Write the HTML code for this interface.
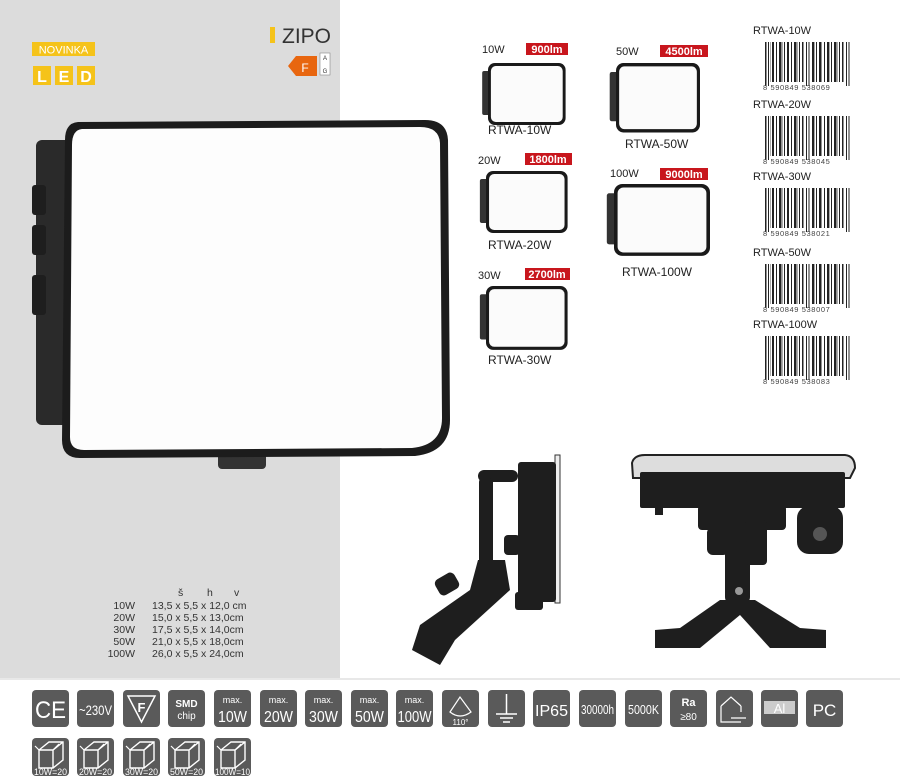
<!DOCTYPE html>
<html><head><meta charset="utf-8"><style>
html,body{margin:0;padding:0;background:#fff;}
svg{display:block;font-family:"Liberation Sans",sans-serif;}
</style></head><body>
<svg width="900" height="778" viewBox="0 0 900 778" xmlns="http://www.w3.org/2000/svg">
<defs>
<g id="bc">
<rect x="0" y="0" width="88" height="40" fill="#fff"/>
<g fill="#222">
<rect x="2" y="0" width="1.5" height="44"/><rect x="5" y="0" width="1" height="44"/>
<rect x="9" y="0" width="2" height="40"/><rect x="13" y="0" width="1" height="40"/><rect x="16" y="0" width="2.5" height="40"/>
<rect x="21" y="0" width="1" height="40"/><rect x="24" y="0" width="2" height="40"/><rect x="28" y="0" width="1" height="40"/>
<rect x="31" y="0" width="2.5" height="40"/><rect x="36" y="0" width="1" height="40"/><rect x="39" y="0" width="1.5" height="40"/>
<rect x="43" y="0" width="1" height="44"/><rect x="45.5" y="0" width="1" height="44"/>
<rect x="49" y="0" width="2" height="40"/><rect x="53" y="0" width="1" height="40"/><rect x="56" y="0" width="2.5" height="40"/>
<rect x="61" y="0" width="1" height="40"/><rect x="64" y="0" width="2" height="40"/><rect x="68" y="0" width="1" height="40"/>
<rect x="71" y="0" width="2.5" height="40"/><rect x="76" y="0" width="1" height="40"/><rect x="79" y="0" width="1.5" height="40"/>
<rect x="83" y="0" width="1" height="44"/><rect x="85.5" y="0" width="1" height="44"/>
</g>
<g fill="#aaa"><rect x="7" y="0" width="1" height="40"/><rect x="19" y="0" width="1" height="40"/><rect x="34" y="0" width="1" height="40"/><rect x="51" y="0" width="1" height="40"/><rect x="66" y="0" width="1" height="40"/><rect x="74" y="0" width="1" height="40"/></g>
</g>
<g id="lamp">
<rect x="-6" y="8" width="10" height="44" rx="2" fill="#333"/>
<rect x="0" y="0" width="80" height="62" rx="7" fill="#1a1a1a"/>
<rect x="3" y="3" width="74" height="56" rx="5" fill="#fbfbfb"/>
</g>
<g id="box">
<path d="M6 12 L16 4 L30 4 L30 22 L20 30 L6 30 Z M6 12 L20 12 L30 4 M20 12 L20 30" fill="none" stroke="#fff" stroke-width="1.4"/>
<path d="M6 12 L2 8 M20 12 L26 6" stroke="#fff" stroke-width="1.2"/>
</g>
</defs>

<rect x="0" y="0" width="340" height="678" fill="#dcdcdc"/>
<line x1="0" y1="679" x2="900" y2="679" stroke="#d0d0d0" stroke-width="1"/>

<rect x="32" y="42" width="63" height="14" fill="#f5c31a"/>
<text x="63.5" y="53.5" font-size="11" fill="#fff" text-anchor="middle">NOVINKA</text>
<rect x="33" y="66" width="18" height="19" fill="#f5c31a"/><rect x="55" y="66" width="18" height="19" fill="#f5c31a"/><rect x="77" y="66" width="18" height="19" fill="#f5c31a"/>
<text x="42" y="82" font-size="16" font-weight="bold" fill="#fff" text-anchor="middle">L</text>
<text x="64" y="82" font-size="16" font-weight="bold" fill="#fff" text-anchor="middle">E</text>
<text x="86" y="82" font-size="16" font-weight="bold" fill="#fff" text-anchor="middle">D</text>

<rect x="270" y="27" width="5" height="16" fill="#f5c31a"/>
<text x="282" y="43" font-size="21" fill="#333">ZIPO</text>
<path d="M288 66 L296 56 L317 56 L317 76 L296 76 Z" fill="#e8660f"/>
<text x="305" y="72" font-size="12" fill="#fff" text-anchor="middle">F</text>
<rect x="320" y="53" width="10" height="22" fill="#fff" stroke="#888" stroke-width="0.6"/>
<text x="325" y="60" font-size="6" fill="#333" text-anchor="middle">A</text>
<text x="325" y="73" font-size="6" fill="#333" text-anchor="middle">G</text>

<!-- main lamp -->
<rect x="218" y="445" width="48" height="24" rx="4" fill="#333"/>
<rect x="36" y="140" width="42" height="285" rx="6" fill="#2a2a2a"/>
<rect x="32" y="185" width="14" height="30" rx="3" fill="#1e1e1e"/>
<rect x="32" y="225" width="14" height="30" rx="3" fill="#1e1e1e"/>
<rect x="32" y="275" width="14" height="40" rx="3" fill="#1e1e1e"/>
<path d="M78 122 Q65 123 65 140 L62 440 Q62 458 80 458 L415 456 Q450 452 450 420 L448 140 Q447 120 425 120 Z" fill="#1c1c1c"/>
<path d="M82 129 Q72 130 72 145 L70 437 Q70 450 84 450 L412 448 Q442 445 442 418 L440 143 Q439 127 420 127 Z" fill="#fdfdfd"/>

<g font-size="10.5" fill="#333">
<text x="178" y="596">š</text><text x="207" y="596">h</text><text x="234" y="596">v</text>
<text x="135" y="609" text-anchor="end">10W</text><text x="152" y="609">13,5 x 5,5 x 12,0 cm</text>
<text x="135" y="621" text-anchor="end">20W</text><text x="152" y="621">15,0 x 5,5 x 13,0cm</text>
<text x="135" y="633" text-anchor="end">30W</text><text x="152" y="633">17,5 x 5,5 x 14,0cm</text>
<text x="135" y="645" text-anchor="end">50W</text><text x="152" y="645">21,0 x 5,5 x 18,0cm</text>
<text x="135" y="657" text-anchor="end">100W</text><text x="152" y="657">26,0 x 5,5 x 24,0cm</text>
</g>

<g font-size="11" fill="#222">
<text x="482" y="53">10W</text><rect x="526" y="43" width="42" height="12" fill="#c8161d"/><text x="547" y="53" fill="#fff" font-weight="bold" text-anchor="middle">900lm</text>
<g transform="translate(488,63) scale(0.97,1)"><use href="#lamp"/></g>
<text x="488" y="134" font-size="12">RTWA-10W</text>

<text x="616" y="55">50W</text><rect x="660" y="45" width="48" height="12" fill="#c8161d"/><text x="684" y="55" fill="#fff" font-weight="bold" text-anchor="middle">4500lm</text>
<g transform="translate(616,63) scale(1.05,1.12)"><use href="#lamp"/></g>
<text x="625" y="148" font-size="12">RTWA-50W</text>

<text x="478" y="164">20W</text><rect x="525" y="153" width="47" height="12" fill="#c8161d"/><text x="548" y="163" fill="#fff" font-weight="bold" text-anchor="middle">1800lm</text>
<g transform="translate(486,171) scale(1.02,1)"><use href="#lamp"/></g>
<text x="488" y="249" font-size="12">RTWA-20W</text>

<text x="610" y="177">100W</text><rect x="660" y="168" width="48" height="12" fill="#c8161d"/><text x="684" y="178" fill="#fff" font-weight="bold" text-anchor="middle">9000lm</text>
<g transform="translate(614,184) scale(1.2,1.16)"><use href="#lamp"/></g>
<text x="622" y="276" font-size="12">RTWA-100W</text>

<text x="478" y="279">30W</text><rect x="525" y="268" width="45" height="12" fill="#c8161d"/><text x="547" y="278" fill="#fff" font-weight="bold" text-anchor="middle">2700lm</text>
<g transform="translate(486,286) scale(1.02,1.03)"><use href="#lamp"/></g>
<text x="488" y="364" font-size="12">RTWA-30W</text>
</g>

<g font-size="11" fill="#222">
<text x="753" y="34">RTWA-10W</text><use href="#bc" x="763" y="42"/><text x="763" y="90" font-size="7.5" fill="#444" letter-spacing="0.6">8 590849 538069</text>
<text x="753" y="108">RTWA-20W</text><use href="#bc" x="763" y="116"/><text x="763" y="164" font-size="7.5" fill="#444" letter-spacing="0.6">8 590849 538045</text>
<text x="753" y="180">RTWA-30W</text><use href="#bc" x="763" y="188"/><text x="763" y="236" font-size="7.5" fill="#444" letter-spacing="0.6">8 590849 538021</text>
<text x="753" y="256">RTWA-50W</text><use href="#bc" x="763" y="264"/><text x="763" y="312" font-size="7.5" fill="#444" letter-spacing="0.6">8 590849 538007</text>
<text x="753" y="328">RTWA-100W</text><use href="#bc" x="763" y="336"/><text x="763" y="384" font-size="7.5" fill="#444" letter-spacing="0.6">8 590849 538083</text>
</g>

<g fill="#1e1e1e">
<rect x="555" y="455" width="5" height="148" fill="#eee" stroke="#333"/>
<rect x="518" y="462" width="38" height="140" rx="3"/>
<rect x="515" y="592" width="28" height="18" rx="3"/>
<rect x="478" y="470" width="40" height="12" rx="6"/>
<rect x="479" y="478" width="14" height="90" rx="4"/>
<rect x="504" y="535" width="16" height="20" rx="4"/>
<path d="M478 560 L505 560 L510 590 L455 640 L440 665 L412 650 L420 625 L470 590 Z"/>
<rect x="436" y="575" width="22" height="18" rx="5" transform="rotate(-30 447 584)"/>
</g>

<g fill="#1e1e1e">
<path d="M632 463 Q634 455 645 455 L845 455 Q855 456 855 468 L850 478 L633 478 Z" fill="#ddd" stroke="#222" stroke-width="2"/>
<rect x="640" y="472" width="205" height="36" rx="2"/>
<rect x="698" y="505" width="88" height="25" rx="4"/>
<circle cx="743" cy="497" r="16"/>
<rect x="707" y="527" width="22" height="28" rx="6"/>
<rect x="725" y="525" width="25" height="80" rx="8"/>
<rect x="745" y="520" width="22" height="45" rx="4"/>
<circle cx="739" cy="591" r="4" fill="#999"/>
<path d="M720 600 L755 600 L800 628 L826 630 L826 648 L770 648 L740 615 L700 648 L655 648 L655 630 L680 628 Z"/>
<rect x="797" y="506" width="46" height="48" rx="12"/>
<circle cx="820" cy="534" r="7" fill="#555"/>
<rect x="655" y="505" width="8" height="10"/><rect x="830" y="505" width="8" height="10"/>
</g>

<g>
<g fill="#5a5a5a">
<rect x="32" y="690" width="37" height="37" rx="4"/><rect x="77" y="690" width="37" height="37" rx="4"/><rect x="123" y="690" width="37" height="37" rx="4"/><rect x="168" y="690" width="37" height="37" rx="4"/><rect x="214" y="690" width="37" height="37" rx="4"/><rect x="260" y="690" width="37" height="37" rx="4"/><rect x="305" y="690" width="37" height="37" rx="4"/><rect x="351" y="690" width="37" height="37" rx="4"/><rect x="396" y="690" width="37" height="37" rx="4"/><rect x="442" y="690" width="37" height="37" rx="4"/><rect x="488" y="690" width="37" height="37" rx="4"/><rect x="533" y="690" width="37" height="37" rx="4"/><rect x="579" y="690" width="37" height="37" rx="4"/><rect x="625" y="690" width="37" height="37" rx="4"/><rect x="670" y="690" width="37" height="37" rx="4"/><rect x="716" y="690" width="37" height="37" rx="4"/><rect x="761" y="690" width="37" height="37" rx="4"/><rect x="806" y="690" width="37" height="37" rx="4"/>
<rect x="32" y="738" width="37" height="38" rx="4"/><rect x="77" y="738" width="37" height="38" rx="4"/><rect x="123" y="738" width="37" height="38" rx="4"/><rect x="168" y="738" width="37" height="38" rx="4"/><rect x="214" y="738" width="37" height="38" rx="4"/>
</g>
<g fill="#fff">
<text x="35" y="718" font-size="24" textLength="31" lengthAdjust="spacingAndGlyphs">CE</text>
<text x="79" y="715" font-size="14" textLength="33" lengthAdjust="spacingAndGlyphs">~230V</text>
<path d="M128 696 L155 696 L141.5 722 Z" fill="none" stroke="#fff" stroke-width="1.5"/>
<text x="141.5" y="712" font-size="13" font-weight="bold" text-anchor="middle">F</text>
<text x="186.5" y="707" font-size="10" font-weight="bold" text-anchor="middle">SMD</text><text x="186.5" y="719" font-size="10" text-anchor="middle">chip</text>
<g text-anchor="middle">
<text x="232.5" y="703" font-size="9">max.</text><text x="232.5" y="722" font-size="16" textLength="29" lengthAdjust="spacingAndGlyphs">10W</text>
<text x="278.5" y="703" font-size="9">max.</text><text x="278.5" y="722" font-size="16" textLength="29" lengthAdjust="spacingAndGlyphs">20W</text>
<text x="323.5" y="703" font-size="9">max.</text><text x="323.5" y="722" font-size="16" textLength="29" lengthAdjust="spacingAndGlyphs">30W</text>
<text x="369.5" y="703" font-size="9">max.</text><text x="369.5" y="722" font-size="16" textLength="29" lengthAdjust="spacingAndGlyphs">50W</text>
<text x="414.5" y="703" font-size="9">max.</text><text x="414.5" y="722" font-size="16" textLength="34" lengthAdjust="spacingAndGlyphs">100W</text>
<text x="460.5" y="725" font-size="8">110°</text>
<text x="688.5" y="706" font-size="11" font-weight="bold">Ra</text><text x="688.5" y="720" font-size="10">≥80</text>
<text x="824.5" y="716" font-size="17">PC</text>
</g>
<path d="M450 712 L460 697 L471 712 Q460 720 450 712 Z" fill="none" stroke="#fff" stroke-width="1.2"/>
<path d="M506.5 694 L506.5 714 M496 714 L517 714 M500 718 L513 718 M503 722 L510 722" stroke="#fff" stroke-width="1.5"/>
<text x="535" y="716" font-size="16" textLength="33" lengthAdjust="spacingAndGlyphs">IP65</text>
<text x="581" y="714" font-size="13" textLength="33" lengthAdjust="spacingAndGlyphs">30000h</text>
<text x="628" y="714" font-size="13" textLength="31" lengthAdjust="spacingAndGlyphs">5000K</text>
<path d="M721 706 L731 697 L741 706 M721 706 L721 722 L741 722 M741 706 L741 712 M731 718 L746 718" fill="none" stroke="#fff" stroke-width="1.2"/>
<rect x="764" y="701" width="31" height="13" fill="#ccc"/><text x="779.5" y="713" font-size="13" text-anchor="middle">Al</text>
</g>
<use href="#box" x="33" y="738"/><use href="#box" x="78" y="738"/><use href="#box" x="124" y="738"/><use href="#box" x="169" y="738"/><use href="#box" x="215" y="738"/>
<g fill="#fff" font-size="9">
<text x="34" y="775" textLength="33" lengthAdjust="spacingAndGlyphs">10W=20</text><text x="79" y="775" textLength="33" lengthAdjust="spacingAndGlyphs">20W=20</text><text x="125" y="775" textLength="33" lengthAdjust="spacingAndGlyphs">30W=20</text><text x="170" y="775" textLength="33" lengthAdjust="spacingAndGlyphs">50W=20</text><text x="215" y="775" textLength="35" lengthAdjust="spacingAndGlyphs">100W=10</text>
</g>
</g>
</svg>
</body></html>
